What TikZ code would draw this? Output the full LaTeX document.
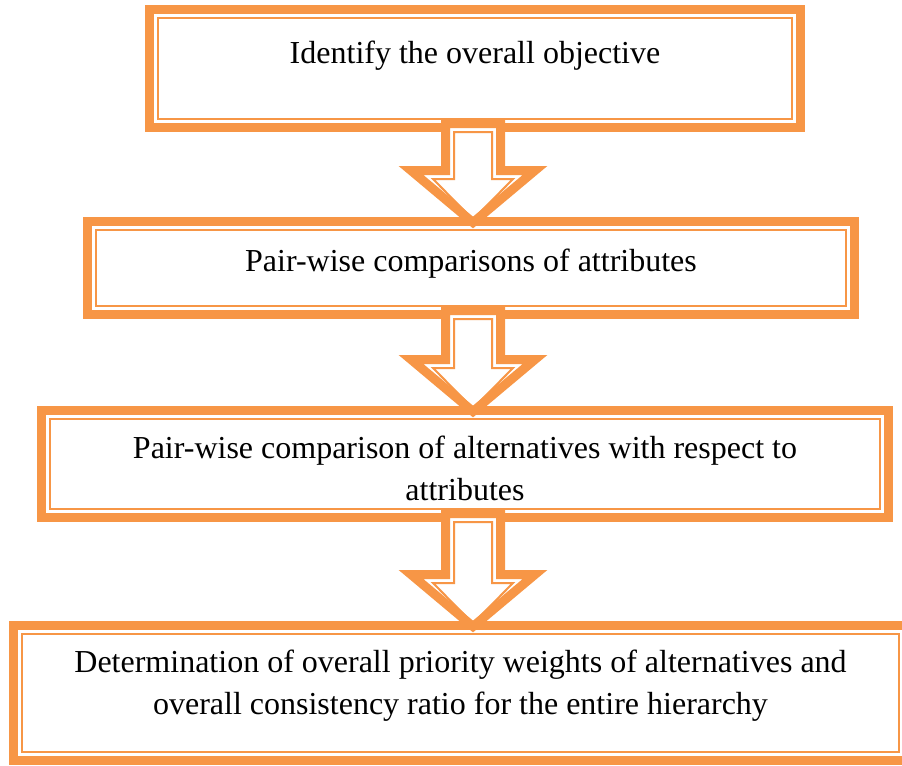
\documentclass[tikz,border=0pt]{standalone}
\usepackage{fontspec}
\setmainfont{Liberation Serif}
\usetikzlibrary{calc}
\definecolor{border}{RGB}{247,150,70}

% block arrow from the bottom of one box to the top of the next
\newcommand{\flowarrow}[2]{%
  \draw[arrowband] let \p1=(axis), \p2=(#1.south), \p3=(#2.north) in
    (\x1-13.75pt,\y2+2pt) -- (\x1-13.75pt,\y3+25.5pt) -- (\x1-31pt,\y3+25.5pt) -- (\x1,\y3-0.5pt)
    -- (\x1+31pt,\y3+25.5pt) -- (\x1+13.75pt,\y3+25.5pt) -- (\x1+13.75pt,\y2+2pt) -- cycle;
  \draw[thinframe] let \p1=(axis), \p2=(#1.south), \p3=(#2.north) in
    (\x1-9.5pt,\y2-2.25pt) -- (\x1-9.5pt,\y3+21.25pt) -- (\x1-20pt,\y3+21.25pt) -- (\x1,\y3+1pt)
    -- (\x1+20pt,\y3+21.25pt) -- (\x1+9.5pt,\y3+21.25pt) -- (\x1+9.5pt,\y2-2.25pt) -- cycle;
}

\begin{document}
\begin{tikzpicture}[x=0.5pt, y=-0.5pt,
    stepbox/.style = {draw=border, line width=4.5pt, fill=white, inner sep=0pt, outer sep=0pt,
                      align=center, font=\fontsize{16pt}{21pt}\selectfont},
    thinframe/.style = {draw=border, line width=1pt},
    arrowband/.style = {draw=border, line width=4.5pt, fill=white, line join=miter}]
\clip (0,0) rectangle (902,766);
\coordinate (axis) at (473,0);

\node[stepbox, minimum width=325.5pt, minimum height=59pt, text height=0pt, text depth=5.5pt]
    (obj) at (475,68.5) {Identify the overall objective};
\node[stepbox, minimum width=383.5pt, minimum height=46.5pt, text height=3pt, text depth=0pt]
    (attr) at (471,268) {Pair-wise comparisons of attributes};
\node[stepbox, minimum width=423.5pt, minimum height=53.5pt, text height=36pt, text depth=0pt]
    (alt) at (465,464) {Pair-wise comparison of alternatives with respect to\\ attributes};
\node[stepbox, minimum width=447pt, minimum height=67.5pt, text height=21pt, text depth=0pt]
    (prio) at (460.5,693) {Determination of overall priority weights of alternatives and\\
    overall consistency ratio for the entire hierarchy};

\foreach \b in {obj,attr,alt,prio}
  \draw[thinframe] ([shift={(4.25pt,-4.25pt)}]\b.north west) rectangle ([shift={(-4.25pt,4.25pt)}]\b.south east);

\flowarrow{obj}{attr}
\flowarrow{attr}{alt}
\flowarrow{alt}{prio}
\end{tikzpicture}
\end{document}
